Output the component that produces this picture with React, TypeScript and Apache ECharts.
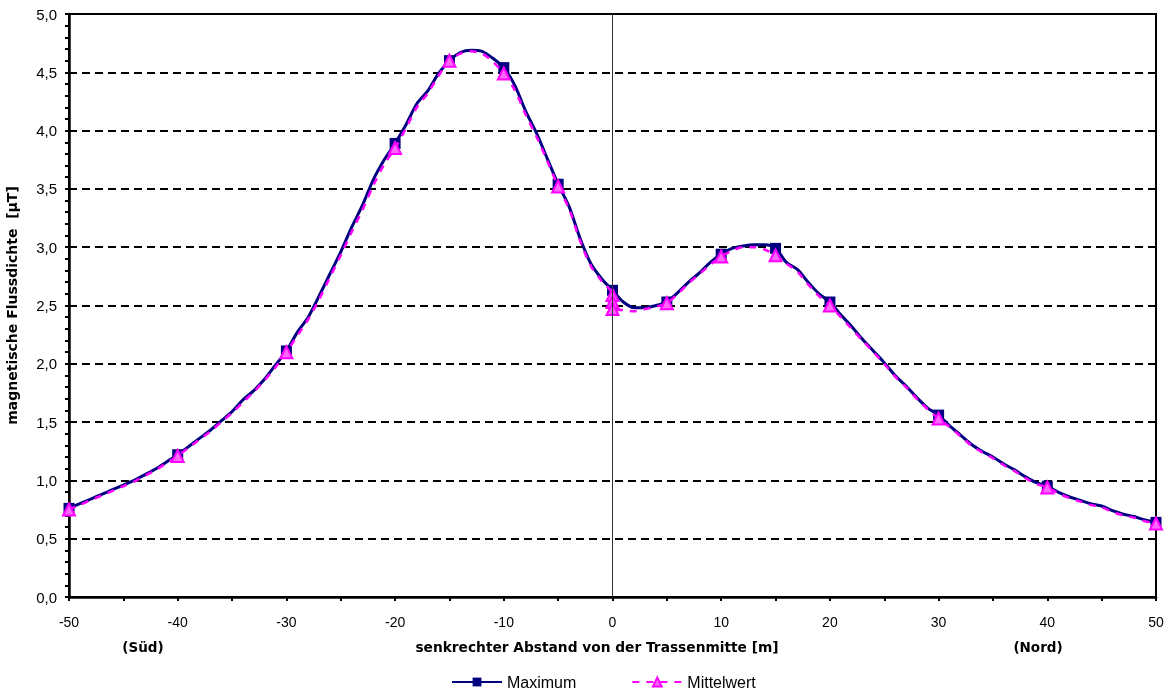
import React, { useEffect, useRef } from "react";
import * as echarts from "echarts";

const xPositions = [
  -50, -49, -48, -47, -46, -45, -44, -43, -42, -41, -40, -39, -38, -37, -36, -35, -34, -33, -32, -31,
  -30, -29, -28, -27, -26, -25, -24, -23, -22, -21, -20, -19, -18, -17, -16, -15, -14, -13, -12, -11,
  -10, -9, -8, -7, -6, -5, -4, -3, -2, -1, 0, 1, 2, 3, 4, 5, 6, 7, 8, 9,
  10, 11, 12, 13, 14, 15, 16, 17, 18, 19, 20, 21, 22, 23, 24, 25, 26, 27, 28, 29,
  30, 31, 32, 33, 34, 35, 36, 37, 38, 39, 40, 41, 42, 43, 44, 45, 46, 47, 48, 49, 50,
];

const maximumValues = [
  0.76, 0.8, 0.84, 0.88, 0.92, 0.96, 1.0, 1.05, 1.1, 1.16, 1.22, 1.29, 1.36, 1.43, 1.51, 1.59, 1.69, 1.77, 1.87, 1.99,
  2.11, 2.27, 2.4, 2.58, 2.77, 2.96, 3.17, 3.36, 3.58, 3.75, 3.89, 4.05, 4.23, 4.34, 4.49, 4.6, 4.67, 4.69, 4.68, 4.62,
  4.54, 4.39, 4.17, 3.98, 3.76, 3.54, 3.35, 3.08, 2.86, 2.73, 2.63, 2.53, 2.48, 2.48, 2.5, 2.53, 2.61, 2.7, 2.78, 2.87,
  2.94, 2.99, 3.01, 3.02, 3.02, 2.99, 2.87, 2.81, 2.7, 2.6, 2.53, 2.42, 2.32, 2.21, 2.11, 2.01, 1.9, 1.81, 1.71, 1.62,
  1.56, 1.47, 1.39, 1.31, 1.25, 1.2, 1.14, 1.09, 1.03, 0.98, 0.95, 0.9, 0.86, 0.83, 0.8, 0.78, 0.74, 0.71, 0.69, 0.66, 0.64,
];

const mittelwertValues = [
  0.75, 0.79, 0.83, 0.87, 0.91, 0.95, 0.99, 1.04, 1.09, 1.15, 1.21, 1.28, 1.35, 1.42, 1.5, 1.58, 1.67, 1.76, 1.86, 1.97,
  2.1, 2.24, 2.38, 2.55, 2.74, 2.93, 3.13, 3.32, 3.53, 3.71, 3.85, 4.02, 4.2, 4.32, 4.47, 4.6, 4.66, 4.68, 4.66, 4.59,
  4.49, 4.35, 4.14, 3.95, 3.74, 3.52, 3.33, 3.06, 2.84, 2.71, 2.59, 2.46, 2.45, 2.47, 2.49, 2.52, 2.6, 2.69, 2.77, 2.85,
  2.92, 2.97, 3.0, 3.0, 2.98, 2.93, 2.86, 2.79, 2.68, 2.58, 2.5, 2.4, 2.3, 2.2, 2.1, 2.0, 1.89, 1.8, 1.7, 1.61,
  1.53, 1.46, 1.38, 1.3, 1.24, 1.19, 1.13, 1.08, 1.02, 0.97, 0.94, 0.89, 0.85, 0.82, 0.79, 0.77, 0.73, 0.7, 0.68, 0.65, 0.63,
];

// additional Mittelwert readings at x = 0
const mittelwertAtZero = [2.53, 2.47];

const markerPositions = [-50, -40, -30, -20, -15, -10, -5, 0, 5, 10, 15, 20, 30, 40, 50];

const yTickFormat = (v: number) => v.toFixed(1).replace(".", ",");

const FONT = "'Liberation Sans', Arial, sans-serif";
const BOLD_FONT = "'DejaVu Sans', 'Liberation Sans', Arial, sans-serif";

export default function App() {
  const ref = useRef<HTMLDivElement>(null);

  useEffect(() => {
    if (!ref.current) return;
    const chart = echarts.init(ref.current, null, { renderer: "svg" });

    const maxData = xPositions.map((x, i) => ({
      value: [x, maximumValues[i]],
      symbol: markerPositions.includes(x) ? "rect" : "none",
    }));

    const midData: any[] = [];
    xPositions.forEach((x, i) => {
      midData.push({
        value: [x, mittelwertValues[i]],
        symbol: markerPositions.includes(x) ? "triangle" : "none",
      });
      if (x === 0) {
        mittelwertAtZero.forEach((v) =>
          midData.push({ value: [0, v], symbol: "triangle" })
        );
      }
    });

    chart.setOption({
      animation: false,
      textStyle: { fontFamily: FONT },
      grid: {
        left: 69,
        right: 15,
        top: 14,
        bottom: 96,
        show: true,
        borderColor: "#000",
        borderWidth: 2,
        outerBoundsMode: "none",
        containLabel: false,
      },
      legend: {
        bottom: -2,
        left: 446,
        itemWidth: 50,
        itemHeight: 11,
        itemGap: 55,
        textStyle: { fontFamily: FONT, fontSize: 16, color: "#000" },
        data: ["Maximum", "Mittelwert"],
      },
      xAxis: {
        type: "value",
        min: -50,
        max: 50,
        interval: 10,
        axisLine: { onZero: false, lineStyle: { color: "#000", width: 2.5 } },
        axisTick: { show: true, length: 4, lineStyle: { color: "#000", width: 2 } },
        minorTick: { show: true, splitNumber: 2, length: 4, lineStyle: { color: "#000", width: 2 } },
        axisLabel: { color: "#000", fontSize: 14, fontFamily: FONT, margin: 18 },
        splitLine: { show: false },
      },
      yAxis: {
        type: "value",
        min: 0,
        max: 5,
        interval: 0.5,
        name: "magnetische Flussdichte  [µT]",
        nameLocation: "middle",
        nameGap: 50,
        nameTextStyle: { fontWeight: "bold", fontSize: 14, color: "#000", fontFamily: BOLD_FONT },
        axisLine: { onZero: false, lineStyle: { color: "#000", width: 2.5 } },
        axisTick: { show: true, length: 4, lineStyle: { color: "#000", width: 2 } },
        minorTick: { show: true, splitNumber: 5, length: 4, lineStyle: { color: "#000", width: 2 } },
        axisLabel: { color: "#000", fontSize: 15, fontFamily: FONT, margin: 12, formatter: yTickFormat },
        splitLine: { show: true, lineStyle: { color: "#000", width: 2, type: [8, 5] } },
      },
      graphic: [
        {
          type: "text",
          x: 597,
          y: 647,
          style: {
            text: "senkrechter Abstand von der Trassenmitte [m]",
            font: `bold 13.75px ${BOLD_FONT}`,
            fill: "#000",
            align: "center",
            verticalAlign: "middle",
          },
        },
        {
          type: "text",
          x: 143,
          y: 647,
          style: { text: "(Süd)", font: `bold 13.5px ${BOLD_FONT}`, fill: "#000", align: "center", verticalAlign: "middle" },
        },
        {
          type: "text",
          x: 1038,
          y: 647,
          style: { text: "(Nord)", font: `bold 13.5px ${BOLD_FONT}`, fill: "#000", align: "center", verticalAlign: "middle" },
        },
      ],
      series: [
        {
          name: "Maximum",
          type: "line",
          data: maxData,
          symbol: "rect",
          symbolSize: 11,
          showAllSymbol: true,
          smooth: 0.3,
          lineStyle: { color: "#000080", width: 3 },
          itemStyle: { color: "#000080" },
          markLine: {
            silent: true,
            symbol: "none",
            label: { show: false },
            lineStyle: { color: "#333", width: 1, type: "solid" },
            data: [{ xAxis: 0 }],
          },
          z: 3,
        },
        {
          name: "Mittelwert",
          type: "line",
          data: midData,
          symbol: "triangle",
          symbolSize: 12,
          showAllSymbol: true,
          smooth: 0.3,
          lineStyle: { color: "#FF00FF", width: 2.5, type: [7, 7] },
          itemStyle: { color: "#FF66FF", borderColor: "#FF00FF", borderWidth: 2 },
          z: 4,
        },
      ],
    });

    return () => chart.dispose();
  }, []);

  return (
    <div
      ref={ref}
      style={{ position: "fixed", left: 0, top: 0, width: 1171, height: 693 }}
    />
  );
}
